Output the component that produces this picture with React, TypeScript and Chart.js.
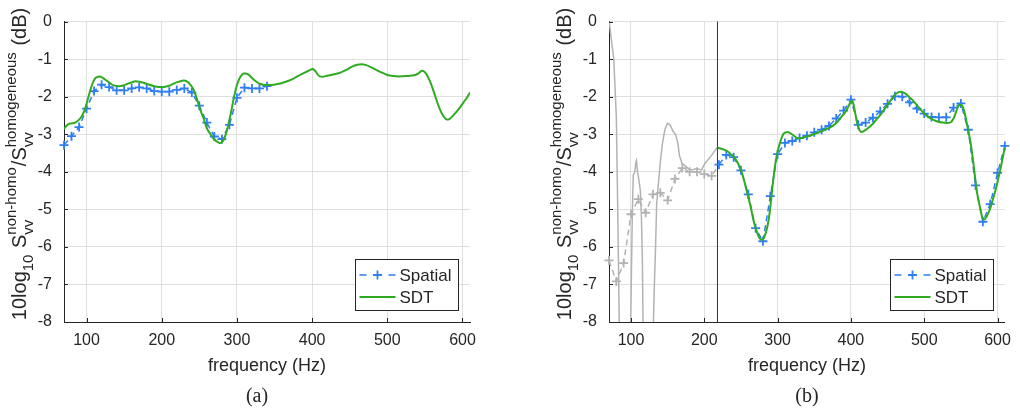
import React, { useEffect, useRef } from 'react';
import { Chart, registerables } from 'chart.js';
Chart.register(...registerables);

// ---------- ticks ----------
const xTicks = [100, 200, 300, 400, 500, 600];
const yTicks = [0, -1, -2, -3, -4, -5, -6, -7, -8];
const xTitle = 'frequency (Hz)';

// ---------- panel (a) ----------
const aSpatialFreq = [70, 80, 90, 100, 110, 120, 130, 140, 150, 160, 170, 180, 190, 200, 210, 220, 230, 240, 250, 260, 270, 280, 290, 300, 310, 320, 330, 340];
const aSpatialVal = [-3.29, -3.05, -2.81, -2.32, -1.85, -1.68, -1.745, -1.83, -1.83, -1.78, -1.75, -1.78, -1.85, -1.865, -1.865, -1.82, -1.78, -1.89, -2.24, -2.69, -3.06, -3.13, -2.75, -2.03, -1.76, -1.78, -1.78, -1.72];

const aSdtFreq = [70, 73, 76, 80, 85, 89, 93, 97, 100, 103, 106, 109, 112, 115, 118, 121, 125, 130, 136, 143, 149, 154, 160, 165, 170, 176, 183, 190, 200, 206, 212, 218, 223, 229, 234, 238, 242, 245, 248, 251.5, 256, 260, 265, 269, 273, 277, 280, 282.5, 286, 289, 292.5, 296, 299, 302.5, 306, 309, 312, 316, 320, 325, 330, 335, 342, 349, 358, 367, 376, 384, 392, 397, 400.8, 403, 406.5, 410, 414, 420, 430, 437.5, 445, 453, 460, 466, 472, 478, 484, 492, 500, 508, 515, 525, 537, 542, 546, 549, 552.7, 557, 561.5, 566, 570.4, 575, 579.2, 583, 588, 595, 601.4, 606, 610];
const aSdtVal = [-2.86, -2.78, -2.73, -2.71, -2.69, -2.63, -2.54, -2.38, -2.19, -1.97, -1.76, -1.6, -1.5, -1.47, -1.46, -1.49, -1.55, -1.62, -1.7, -1.72, -1.7, -1.66, -1.62, -1.59, -1.6, -1.63, -1.68, -1.72, -1.745, -1.73, -1.69, -1.63, -1.6, -1.57, -1.6, -1.68, -1.8, -1.95, -2.14, -2.36, -2.6, -2.84, -3.0, -3.12, -3.19, -3.23, -3.21, -3.14, -2.95, -2.71, -2.38, -2.02, -1.76, -1.55, -1.43, -1.38, -1.38, -1.42, -1.5, -1.59, -1.65, -1.68, -1.69, -1.68, -1.65, -1.59, -1.51, -1.42, -1.34, -1.29, -1.26, -1.29, -1.38, -1.46, -1.47, -1.44, -1.4, -1.36, -1.29, -1.2, -1.15, -1.135, -1.16, -1.21, -1.27, -1.35, -1.42, -1.45, -1.46, -1.45, -1.42, -1.37, -1.31, -1.33, -1.42, -1.6, -1.85, -2.12, -2.36, -2.53, -2.61, -2.59, -2.49, -2.33, -2.15, -2.02, -1.89];

// ---------- panel (b) ----------
const bSpatialFreq = [220, 230, 240, 250, 260, 270, 280, 290, 300, 310, 320, 330, 340, 350, 360, 370, 380, 390, 400, 410, 420, 430, 440, 450, 460, 470, 480, 490, 500, 510, 520, 530, 540, 550, 560, 570, 580, 590, 600, 610];
const bSpatialVal = [-3.81, -3.55, -3.61, -3.96, -4.6, -5.5, -5.85, -4.65, -3.53, -3.23, -3.18, -3.1, -3.04, -2.95, -2.88, -2.78, -2.58, -2.37, -2.08, -2.75, -2.69, -2.56, -2.39, -2.19, -1.99, -2.0, -2.15, -2.32, -2.45, -2.54, -2.55, -2.55, -2.29, -2.18, -2.88, -4.36, -5.33, -4.86, -4.03, -3.31];

const bSdtFreq = [218, 222, 227, 232, 236, 241, 245, 250, 254, 258, 261, 264, 267, 271, 274, 277, 279.5, 282, 285, 288, 290.5, 293, 296, 299, 302, 305, 308, 311, 314, 317, 321, 325, 329.5, 335, 343, 352, 360, 367, 374, 381, 387, 392, 396, 399, 401.5, 403.5, 406, 409, 412, 414.5, 418, 423, 430, 436, 443, 449, 455, 460, 465, 468, 472, 476, 480, 485, 491, 498, 505, 512, 518, 525, 531, 536, 540, 543, 546, 548.5, 551, 554, 557, 560, 563, 566, 569, 572, 576, 579, 582, 585.5, 589, 593, 598, 604, 610];
const bSdtVal = [-3.36, -3.38, -3.41, -3.46, -3.53, -3.62, -3.74, -3.95, -4.21, -4.52, -4.75, -5.0, -5.29, -5.55, -5.72, -5.8, -5.81, -5.73, -5.55, -5.25, -4.86, -4.4, -3.91, -3.55, -3.31, -3.12, -2.99, -2.95, -2.94, -2.97, -3.02, -3.08, -3.11, -3.09, -3.04, -2.98, -2.92, -2.86, -2.79, -2.68, -2.54, -2.42, -2.28, -2.16, -2.11, -2.2, -2.45, -2.75, -2.9, -2.94, -2.91, -2.84, -2.72, -2.58, -2.41, -2.24, -2.08, -1.95, -1.88, -1.87, -1.89, -1.94, -2.02, -2.11, -2.25, -2.41, -2.53, -2.61, -2.66, -2.69, -2.7, -2.68, -2.58, -2.43, -2.27, -2.22, -2.22, -2.35, -2.6, -2.9, -3.2, -3.6, -4.09, -4.55, -4.94, -5.2, -5.27, -5.18, -5.03, -4.78, -4.43, -3.92, -3.35];

// low-frequency part of (b), shown in grey
const bLowSpatialFreq = [70, 80, 90, 100, 110, 120, 130, 140, 150, 160, 170, 180, 190, 200, 210, 220];
const bLowSpatialVal = [-6.36, -6.92, -6.43, -5.13, -4.73, -5.09, -4.6, -4.56, -4.76, -4.19, -3.9, -4.0, -4.0, -4.06, -4.11, -3.81];

const bLowSdtFreq = [70, 73, 76.5, 80, 81.8, 84, 90, 97, 99.6, 101.8, 103.1, 105.3, 106.7, 107.5, 108.9, 111.1, 112.9, 114.2, 115.5, 116.4, 120, 128, 130.6, 132, 133.3, 135, 137.3, 140, 143, 146.2, 149.7, 153.3, 157.3, 160.8, 163.9, 166.1, 169.7, 173.2, 177.7, 183, 189.7, 196.3, 200.8, 209.6, 217.6];
const bLowSdtVal = [0.05, -0.45, -0.99, -2.54, -4.86, -8.0, -11, -11, -8.0, -5.12, -4.09, -4.0, -3.74, -3.7, -4.0, -4.26, -4.52, -5.2, -6.32, -8.0, -11, -11, -8.0, -6.92, -6.15, -4.86, -4.34, -3.74, -3.23, -2.88, -2.71, -2.75, -2.92, -3.01, -3.23, -3.57, -3.78, -3.83, -3.91, -3.95, -3.91, -3.95, -3.78, -3.57, -3.35];

const bBoundaryFreq = [218, 218];
const bBoundaryVal = [0, -8];

// ---------- styles ----------
const BLUE = '#2f7ef4';
const GREEN = '#2fab22';
const GREY = '#b3b3b3';
const AXIS = '#262626';
const GRID = '#dfdfdf';
const SANS = '"Liberation Sans", Arial, Helvetica, sans-serif';
const SERIF = '"Liberation Serif", "DejaVu Serif", serif';

const zip = (xs: number[], ys: number[]) => xs.map((x, i) => ({ x, y: ys[i] }));

function drawYLabel(ctx: CanvasRenderingContext2D, bx: number, cy: number) {
  const F = 20, s = 15;
  const fm = `${F}px ${SANS}`, fs = `${s}px ${SANS}`;
  const subDy = 7.5, supDy = -9.5;
  const meas = (t: string, f: string) => { ctx.font = f; return ctx.measureText(t).width; };
  type P = { n?: string; sub?: string; sup?: string };
  const parts: P[] = [
    { n: '10log' }, { sub: '10' }, { n: ' S' }, { sup: 'non-homo', sub: 'vv' },
    { n: '/S' }, { sup: 'homogeneous', sub: 'vv' }, { n: ' (dB)' },
  ];
  const widths = parts.map(p => p.n !== undefined ? meas(p.n, fm) : Math.max(p.sub ? meas(p.sub, fs) : 0, p.sup ? meas(p.sup, fs) : 0) + 1);
  const total = widths.reduce((a, b) => a + b, 0);
  ctx.save();
  ctx.translate(bx, cy);
  ctx.rotate(-Math.PI / 2);
  ctx.fillStyle = AXIS;
  ctx.textAlign = 'left';
  ctx.textBaseline = 'alphabetic';
  let x = -total / 2;
  parts.forEach((p, i) => {
    if (p.n !== undefined) { ctx.font = fm; ctx.fillText(p.n, x, 0); }
    else {
      ctx.font = fs;
      if (p.sub) ctx.fillText(p.sub, x, subDy);
      if (p.sup) ctx.fillText(p.sup, x, supDy);
    }
    x += widths[i];
  });
  ctx.restore();
}

function decor(opts: { labelX: number; caption: string; captionX: number }) {
  return {
    id: 'decor',
    afterDraw(chart: any) {
      const ctx: CanvasRenderingContext2D = chart.ctx;
      const a = chart.chartArea;
      const xs = chart.scales.x, ys = chart.scales.y;
      ctx.save();
      // inward tick marks
      ctx.strokeStyle = AXIS;
      ctx.lineWidth = 1;
      ctx.beginPath();
      for (const v of xTicks) {
        const px = Math.round(xs.getPixelForValue(v)) + 0.5;
        ctx.moveTo(px, a.bottom); ctx.lineTo(px, a.bottom - 4);
      }
      for (const v of yTicks) {
        const py = Math.round(ys.getPixelForValue(v)) + 0.5;
        ctx.moveTo(a.left, py); ctx.lineTo(a.left + 4, py);
      }
      ctx.stroke();

      // legend
      const bw = 103, bh = 51;
      const L = Math.round(a.right - 12 - bw) + 0.5, T = Math.round(a.bottom - 12 - bh) + 0.5;
      ctx.fillStyle = '#ffffff';
      ctx.fillRect(L, T, bw, bh);
      ctx.strokeStyle = AXIS; ctx.lineWidth = 1;
      ctx.strokeRect(L, T, bw, bh);
      const r1 = T + 15.5, r2 = T + 37.5;
      ctx.strokeStyle = BLUE; ctx.lineWidth = 1.5;
      ctx.beginPath();
      ctx.moveTo(L + 4, r1); ctx.lineTo(L + 11, r1);
      ctx.moveTo(L + 33, r1); ctx.lineTo(L + 40, r1);
      ctx.stroke();
      ctx.lineWidth = 1.8;
      ctx.beginPath();
      ctx.moveTo(L + 22 - 4.5, r1); ctx.lineTo(L + 22 + 4.5, r1);
      ctx.moveTo(L + 22, r1 - 4.5); ctx.lineTo(L + 22, r1 + 4.5);
      ctx.stroke();
      ctx.strokeStyle = GREEN; ctx.lineWidth = 2;
      ctx.beginPath(); ctx.moveTo(L + 4, r2); ctx.lineTo(L + 40, r2); ctx.stroke();
      ctx.fillStyle = AXIS;
      ctx.font = `17px ${SANS}`;
      ctx.textAlign = 'left'; ctx.textBaseline = 'middle';
      ctx.fillText('Spatial', L + 44, r1 + 1);
      ctx.fillText('SDT', L + 44, r2 + 1);

      // x title
      ctx.font = `18px ${SANS}`;
      ctx.textAlign = 'center';
      ctx.fillText(xTitle, (a.left + a.right) / 2, a.bottom + 44);
      // caption
      ctx.font = `20px ${SERIF}`;
      ctx.fillText(opts.caption, opts.captionX, a.bottom + 75);
      // y label
      drawYLabel(ctx, opts.labelX, 164);
      ctx.restore();
    },
  };
}

function baseOptions(axisLeft: number, padRight: number) {
  return {
    responsive: false,
    animation: false as const,
    devicePixelRatio: 1,
    layout: { padding: { left: 0, right: padRight, top: 12, bottom: 0 } },
    plugins: { legend: { display: false }, tooltip: { enabled: false } },
    scales: {
      x: {
        type: 'linear' as const,
        min: 70, max: 610,
        afterBuildTicks: (s: any) => { s.ticks = xTicks.map(v => ({ value: v })); },
        afterFit: (s: any) => { s.height = 89; },
        grid: { color: GRID, drawTicks: false },
        border: { display: true, color: AXIS, width: 1 },
        ticks: { autoSkip: false, maxRotation: 0, minRotation: 0, padding: 9, color: AXIS, font: { size: 16, family: SANS }, callback: (v: any) => String(v) },
      },
      y: {
        type: 'linear' as const,
        min: -8, max: 0,
        afterBuildTicks: (s: any) => { s.ticks = yTicks.map(v => ({ value: v })); },
        afterFit: (s: any) => { s.width = axisLeft; },
        grid: { color: GRID, drawTicks: false },
        border: { display: true, color: AXIS, width: 1 },
        ticks: { autoSkip: false, padding: 12, color: AXIS, font: { size: 16, family: SANS }, callback: (v: any) => String(v) },
      },
    },
  };
}

const spatialStyle = (color: string) => ({
  borderColor: color,
  backgroundColor: color,
  borderWidth: 1.5,
  borderDash: [6, 4],
  pointStyle: 'cross' as const,
  pointRadius: 4.5,
  pointBorderWidth: 1.8,
  pointBorderColor: color,
  tension: 0,
  clip: false as const,
});

const sdtStyle = (color: string) => ({
  borderColor: color,
  backgroundColor: color,
  borderWidth: 2,
  pointRadius: 0,
  cubicInterpolationMode: 'monotone' as const,
});

function PanelA() {
  const ref = useRef<HTMLCanvasElement>(null);
  useEffect(() => {
    const chart = new Chart(ref.current!, {
      type: 'line',
      data: {
        datasets: [
          { label: 'SDT', data: zip(aSdtFreq, aSdtVal), ...sdtStyle(GREEN), order: 0 },
          { label: 'Spatial', data: zip(aSpatialFreq, aSpatialVal), ...spatialStyle(BLUE), order: 1 },
        ],
      },
      options: baseOptions(64, 50) as any,
      plugins: [decor({ labelX: 25.5, caption: '(a)', captionX: 257 })],
    });
    return () => chart.destroy();
  }, []);
  return <canvas ref={ref} width={520} height={411} style={{ position: 'absolute', left: 0, top: 0, width: 520, height: 411 }} />;
}

function PanelB() {
  const ref = useRef<HTMLCanvasElement>(null);
  useEffect(() => {
    const chart = new Chart(ref.current!, {
      type: 'line',
      data: {
        datasets: [
          { label: 'SDT', data: zip(bSdtFreq, bSdtVal), ...sdtStyle(GREEN), order: 0 },
          { label: 'Spatial', data: zip(bSpatialFreq, bSpatialVal), ...spatialStyle(BLUE), order: 1 },
          { label: 'boundary', data: zip(bBoundaryFreq, bBoundaryVal), borderColor: '#3c3c3c', borderWidth: 1, pointRadius: 0, order: 2 },
          { label: 'SDT low', data: zip(bLowSdtFreq, bLowSdtVal), borderColor: GREY, borderWidth: 1.5, pointRadius: 0, tension: 0, clip: 0, order: 3 },
          { label: 'Spatial low', data: zip(bLowSpatialFreq, bLowSpatialVal), ...spatialStyle(GREY), pointRadius: bLowSpatialFreq.map((_, i) => i === bLowSpatialFreq.length - 1 ? 0 : 4.5), order: 4 },
        ],
      },
      options: baseOptions(89, 5) as any,
      plugins: [decor({ labelX: 50.5, caption: '(b)', captionX: 287 })],
    });
    return () => chart.destroy();
  }, []);
  return <canvas ref={ref} width={500} height={411} style={{ position: 'absolute', left: 520, top: 0, width: 500, height: 411 }} />;
}

export default function App() {
  return (
    <div style={{ position: 'fixed', left: 0, top: 0, width: 1020, height: 411, background: '#ffffff', overflow: 'hidden' }}>
      <PanelA />
      <PanelB />
    </div>
  );
}
